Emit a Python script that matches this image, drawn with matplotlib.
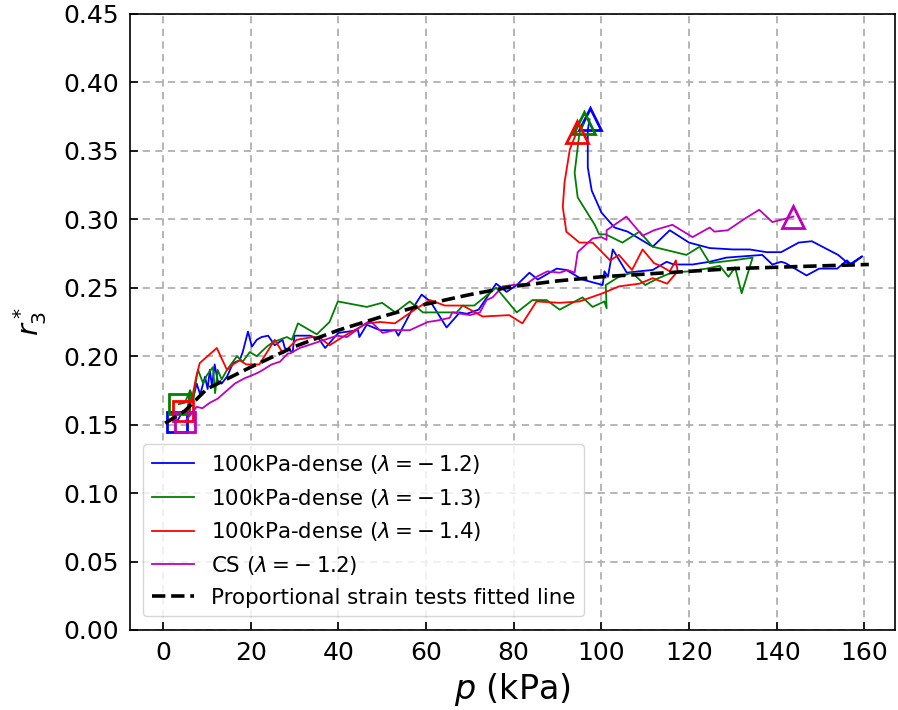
import matplotlib
matplotlib.use("Agg")
import matplotlib.pyplot as plt

# blue: 100kPa-dense (lambda = -1.2)
p_b = [3.2, 4.5, 5.5, 6.2, 6.8, 7.7, 8.5, 9.6, 10.2, 10.7,
       11.2, 11.8, 12.5, 13.4, 14.6, 16.0, 17.5, 18.2, 19.4, 20.3,
       21.4, 22.5, 24.0, 25.5, 27.3, 27.8, 29.6, 30.0, 33.5, 35.5,
       37.0, 40.0, 44.5, 44.8, 46.5, 49.5, 53.0, 53.7, 57.0, 59.0,
       61.0, 64.7, 67.7, 69.3, 72.0, 76.0, 78.4, 80.7, 83.6, 85.5,
       89.8, 92.0, 95.7, 100.3, 100.7, 101.5, 102.6, 105.8, 108.5, 111.7,
       114.9, 116.5, 120.8, 124.7, 128.5, 132.5, 136.7, 139.0, 141.0, 142.0,
       143.6, 146.8, 149.7, 153.8, 156.0, 157.0, 159.5, 156.6, 154.0, 148.0,
       145.0, 141.0, 137.7, 133.8, 130.0, 124.7, 120.0, 115.6, 111.7, 106.0,
       103.0, 100.0, 97.8, 96.9, 96.9, 97.3]
r_b = [0.152, 0.160, 0.158, 0.175, 0.168, 0.180, 0.172, 0.185, 0.176, 0.190,
       0.178, 0.194, 0.182, 0.180, 0.185, 0.195, 0.197, 0.203, 0.218, 0.207,
       0.212, 0.214, 0.215, 0.208, 0.212, 0.206, 0.203, 0.215, 0.215, 0.213,
       0.206, 0.217, 0.219, 0.214, 0.223, 0.219, 0.219, 0.215, 0.235, 0.245,
       0.240, 0.221, 0.232, 0.231, 0.234, 0.253, 0.247, 0.252, 0.261, 0.256,
       0.264, 0.263, 0.256, 0.252, 0.262, 0.258, 0.278, 0.261, 0.262, 0.263,
       0.269, 0.267, 0.267, 0.269, 0.272, 0.273, 0.274, 0.267, 0.269, 0.268,
       0.265, 0.259, 0.264, 0.264, 0.270, 0.267, 0.273, 0.267, 0.274, 0.284,
       0.283, 0.276, 0.276, 0.278, 0.278, 0.279, 0.283, 0.292, 0.280, 0.291,
       0.294, 0.305, 0.321, 0.338, 0.365, 0.373]

# green: 100kPa-dense (lambda = -1.3)
p_g = [3.6, 5.0, 6.2, 6.9, 7.7, 8.0, 9.2, 10.0, 11.4, 11.9,
       12.5, 13.4, 14.6, 16.9, 18.2, 19.8, 21.4, 23.7, 25.0, 27.4,
       28.3, 29.4, 30.8, 35.1, 38.0, 39.9, 46.5, 50.0, 53.0, 56.3,
       59.3, 63.0, 67.0, 68.4, 71.0, 76.0, 80.7, 84.3, 87.5, 90.5,
       95.7, 98.0, 100.7, 101.2, 101.0, 104.0, 107.0, 110.0, 113.0, 116.0,
       120.0, 124.0, 127.0, 129.0, 130.5, 132.0, 134.5, 130.0, 124.7, 122.4,
       119.4, 111.7, 108.7, 104.8, 101.0, 99.5, 98.5, 94.6, 93.9, 95.0,
       96.0]
r_g = [0.165, 0.166, 0.175, 0.168, 0.185, 0.190, 0.180, 0.186, 0.192, 0.173,
       0.190, 0.183, 0.190, 0.200, 0.196, 0.203, 0.200, 0.207, 0.210, 0.213,
       0.214, 0.212, 0.224, 0.216, 0.225, 0.240, 0.236, 0.239, 0.232, 0.240,
       0.232, 0.232, 0.232, 0.237, 0.237, 0.250, 0.232, 0.241, 0.241, 0.234,
       0.243, 0.236, 0.240, 0.235, 0.252, 0.258, 0.261, 0.252, 0.257, 0.261,
       0.262, 0.264, 0.266, 0.258, 0.265, 0.246, 0.272, 0.270, 0.268, 0.280,
       0.274, 0.280, 0.291, 0.283, 0.289, 0.289, 0.296, 0.316, 0.334, 0.363,
       0.370]

# red: 100kPa-dense (lambda = -1.4)
p_r = [4.6, 5.8, 6.8, 7.6, 8.4, 12.3, 14.6, 16.0, 17.5, 19.0,
       22.0, 25.5, 27.4, 30.5, 34.2, 36.0, 38.0, 42.0, 46.5, 49.5,
       52.9, 55.6, 57.9, 60.9, 64.3, 68.4, 72.9, 79.0, 82.0, 85.2,
       90.5, 95.0, 100.3, 104.0, 108.7, 111.7, 115.0, 117.4, 117.0, 115.6,
       113.5, 112.0, 109.4, 107.0, 104.0, 102.0, 98.0, 95.0, 92.0, 91.2,
       91.6, 92.8, 94.4]
r_r = [0.160, 0.158, 0.172, 0.185, 0.195, 0.206, 0.190, 0.194, 0.197, 0.194,
       0.194, 0.212, 0.202, 0.212, 0.214, 0.213, 0.208, 0.216, 0.224, 0.225,
       0.224, 0.230, 0.235, 0.241, 0.237, 0.237, 0.229, 0.230, 0.224, 0.240,
       0.239, 0.240, 0.246, 0.251, 0.253, 0.257, 0.253, 0.262, 0.270, 0.262,
       0.266, 0.268, 0.278, 0.263, 0.274, 0.270, 0.283, 0.283, 0.291, 0.309,
       0.327, 0.351, 0.364]

# magenta: CS (lambda = -1.2)
p_m = [5.0, 6.5, 7.7, 9.0, 10.7, 12.5, 15.7, 16.4, 18.7, 20.3,
       21.7, 22.8, 24.8, 26.7, 28.5, 29.0, 31.2, 35.0, 39.7, 42.0,
       44.9, 47.2, 50.1, 52.9, 56.3, 60.4, 62.5, 65.4, 66.0, 70.0,
       72.3, 73.8, 75.2, 77.5, 79.8, 83.0, 85.2, 87.7, 90.5, 92.3,
       93.9, 94.6, 98.0, 100.0, 101.2, 101.2, 105.7, 109.4, 112.0, 116.2,
       120.8, 124.7, 125.8, 128.8, 132.5, 136.0, 139.0, 143.8]
r_m = [0.152, 0.158, 0.163, 0.162, 0.166, 0.169, 0.178, 0.180, 0.184, 0.186,
       0.188, 0.190, 0.194, 0.196, 0.202, 0.202, 0.206, 0.210, 0.215, 0.214,
       0.221, 0.226, 0.217, 0.219, 0.219, 0.225, 0.226, 0.228, 0.232, 0.230,
       0.232, 0.241, 0.243, 0.251, 0.252, 0.253, 0.258, 0.262, 0.261, 0.263,
       0.261, 0.276, 0.286, 0.287, 0.285, 0.292, 0.302, 0.288, 0.292, 0.296,
       0.287, 0.294, 0.291, 0.292, 0.300, 0.307, 0.298, 0.302]

# fitted line from proportional strain tests
p_fit = [0.5, 5, 10, 20, 30, 40, 50, 60, 70, 80, 90, 100, 110, 120, 130, 140, 150, 161]
r_fit = [0.151, 0.160, 0.176, 0.192, 0.207, 0.219, 0.229, 0.238, 0.245, 0.251,
         0.255, 0.258, 0.260, 0.262, 0.264, 0.265, 0.266, 0.267]

series = [
    (p_b, r_b, 'b', r'100kPa-dense ($\lambda = -\:1.2$)'),
    (p_g, r_g, 'g', r'100kPa-dense ($\lambda = -\:1.3$)'),
    (p_r, r_r, 'r', r'100kPa-dense ($\lambda = -\:1.4$)'),
    (p_m, r_m, 'm', r'CS ($\lambda = -\:1.2$)'),
]

fig = plt.figure(figsize=(8.98, 7.10), dpi=100)
ax = fig.add_axes([0.1448, 0.1127, 0.852, 0.8676])

for p, r, c, lab in series:
    ax.plot(p, r, color=c, lw=1.3, label=lab)
    ax.plot(p[0], r[0], 's', mfc='none', mec=c, ms=15, mew=2)
    ax.plot(p[-1], r[-1], '^', mfc='none', mec=c, ms=16, mew=2)

ax.plot(p_fit, r_fit, 'k--', lw=2.6, label='Proportional strain tests fitted line')

ax.set_xlim(-7.5, 167)
ax.set_ylim(0, 0.45)
ax.set_xticks(range(0, 161, 20))
ax.set_yticks([i * 0.05 for i in range(10)])
ax.set_yticklabels(['%.2f' % (i * 0.05) for i in range(10)])
ax.grid(True, color='#b0b0b0', ls=(0, (4, 3)), lw=1.3)
ax.tick_params(direction='in', labelsize=18, length=6, width=1.2, pad=8)
for s in ax.spines.values():
    s.set_linewidth(1.2)

ax.set_xlabel(r'$p$ (kPa)', fontsize=24, labelpad=4)
ax.set_ylabel(r'$r_3^*$', fontsize=21, labelpad=10)

leg = ax.legend(loc='lower left', fontsize=15.4, handlelength=2.0,
                bbox_to_anchor=(0.003, 0.005))
for h in leg.get_lines()[:4]:
    h.set_linewidth(1.3)

fig.savefig('out.png', dpi=100)
